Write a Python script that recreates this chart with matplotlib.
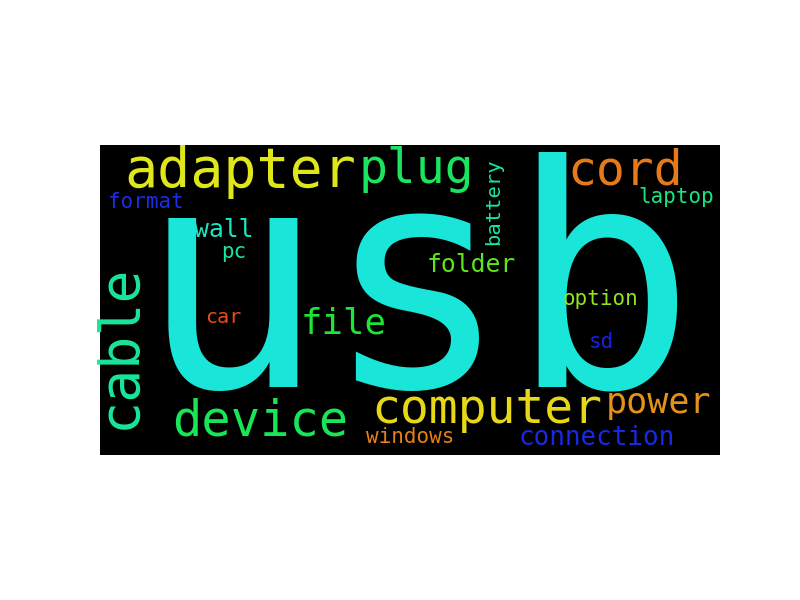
import colorsys
import numpy as np
import matplotlib
matplotlib.use("Agg")
import matplotlib.pyplot as plt

# word cloud canvas is 400 x 200 (wordcloud default)
W, H = 400, 200

words = ["usb", "adapter", "plug", "cord", "cable", "device", "computer",
         "file", "power", "connection", "wall", "folder", "format", "laptop",
         "battery", "pc", "option", "sd", "car", "windows"]
weights = [100, 18, 15, 15, 18, 16, 15, 11, 10, 7, 7, 7, 5, 5, 5, 5, 5, 5, 5, 5]

# layout (canvas units)
pos_x = [204.5, 90.3, 203.9, 338.7, 22.5, 103.2, 249.4, 157.1, 360.6, 320.3,
         80.0, 239.4, 29.7, 371.6, 257.2, 86.1, 323.2, 323.2, 79.7, 200.3]
pos_y = [155.5, 27.1, 24.5, 25.8, 130.0, 187.1, 179.4, 121.3, 172.9, 193.5,
         59.4, 81.9, 40.6, 37.4, 36.5, 72.9, 103.2, 131.0, 114.8, 192.3]
sizes = [199, 35.5, 31, 31, 35.5, 31.5, 31, 23, 22.6, 16.8,
         16, 16, 13.5, 13.5, 13.2, 13.5, 13.5, 13.5, 13, 13.5]
rotation = [0, 0, 0, 0, 90, 0, 0, 0, 0, 0, 0, 0, 0, 0, 90, 0, 0, 0, 0, 0]
hues = [176, 62, 140, 28, 158, 138, 56, 128, 35, 236,
        170, 100, 234, 150, 160, 160, 85, 238, 15, 30]

fig = plt.figure(figsize=(8, 6), dpi=100)
ax = fig.add_axes([0.125, 0.115, 0.775, 0.77])
ax.imshow(np.zeros((H, W, 3)), extent=(0, W, H, 0), interpolation="nearest")
ax.set_xlim(0, W)
ax.set_ylim(H, 0)
ax.axis("off")

# font size in points for one canvas unit
fig.canvas.draw()
bb = ax.get_window_extent()
px_per_unit = min(bb.width / W, bb.height / H)
pt_per_unit = px_per_unit * 72.0 / fig.dpi

for w, x, y, s, r, h in zip(words, pos_x, pos_y, sizes, rotation, hues):
    col = colorsys.hls_to_rgb(h / 360.0, 0.5, 0.8)
    ax.text(x, y, w, fontsize=s * pt_per_unit, family="DejaVu Sans Mono",
            color=col, rotation=r, rotation_mode="anchor",
            ha="center", va="baseline")

plt.savefig("out.png")
